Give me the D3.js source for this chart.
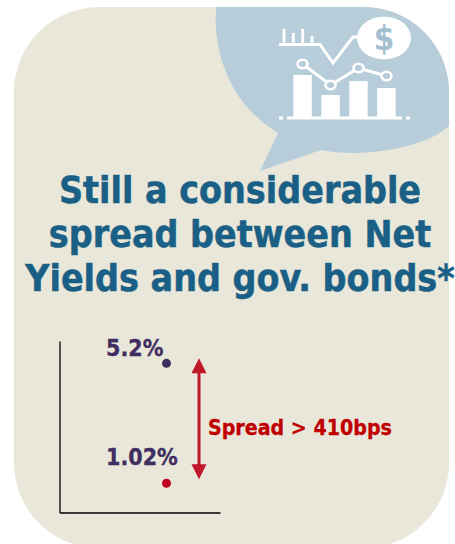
<!DOCTYPE html>
<html>
<head>
<meta charset="utf-8">
<script src="https://cdn.jsdelivr.net/npm/d3@7"></script>
<style>
html,body{margin:0;padding:0;background:#fff;overflow:hidden}
svg{display:block}
text{font-family:"DejaVu Sans",Verdana,sans-serif;font-weight:700;font-stretch:condensed}
</style>
</head>
<body>
<svg id="chart" width="455" height="544"></svg>
<script>
// Yield readings, in percent
const seriesValues = [5.2, 1.02];
const seriesLabels = ["5.2%", "1.02%"];
const seriesColors = ["#3f2e5f", "#c00020"];
const labelLift = [7.5, 18];
const spreadLabel = "Spread > 410bps";
const titleLines = ["Still a considerable", "spread between Net", "Yields and gov. bonds*"];

// Badge pictogram values
const badgeBars = [42, 22, 36, 29];
const badgeLine = [53, 32, 49, 41];
const badgeTicks = [15, 11, 15, 8];

const PANEL = "#e9e7d9", BUBBLE = "#b7cdd9", TITLE = "#1a5f85", ARROW = "#c0172a";

const svg = d3.select("#chart");
const defs = svg.append("defs");
defs.append("clipPath").attr("id", "panelClip").append("rect")
  .attr("x", 14).attr("y", 7).attr("width", 435).attr("height", 541).attr("rx", 85).attr("ry", 85);

// Rounded panel, running off the bottom edge
svg.append("rect").attr("x", 14).attr("y", 7).attr("width", 435).attr("height", 541)
  .attr("rx", 85).attr("ry", 85).attr("fill", PANEL);

// Speech bubble behind the pictogram
svg.append("path").attr("clip-path", "url(#panelClip)").attr("fill", BUBBLE)
  .attr("d", "M217,0 C213,30 218,58 232,85 C243,106 259,121 278,133 L260,171 L321,150 C345,155 385,154 417,143 C430,139 441,133 449,126 L460,120 L460,0 Z");

// Pictogram: columns with a line on top
const badge = svg.append("g").attr("class", "badge");
const bx = d3.scaleBand().domain(d3.range(badgeBars.length)).range([290, 399]).paddingInner(0.34).paddingOuter(0.12);
const by = d3.scaleLinear().domain([0, 42]).range([117, 75]);
badge.selectAll("rect.col").data(badgeBars).join("rect").attr("class", "col")
  .attr("x", (d, i) => bx(i)).attr("width", bx.bandwidth())
  .attr("y", d => by(d)).attr("height", d => by(0) - by(d)).attr("fill", "#fff");
badge.append("line").attr("x1", 287).attr("x2", 402).attr("y1", 118).attr("y2", 118)
  .attr("stroke", "#fff").attr("stroke-width", 3);
badge.selectAll("rect.end").data([281, 408]).join("rect").attr("class", "end")
  .attr("x", d => d - 2).attr("y", 116.5).attr("width", 4).attr("height", 3).attr("fill", "#fff");
const lx = i => bx(i) + bx.bandwidth() / 2;
badge.append("path").datum(badgeLine)
  .attr("d", d3.line().x((d, i) => lx(i)).y(d => by(d)))
  .attr("fill", "none").attr("stroke", "#fff").attr("stroke-width", 3);
badge.selectAll("ellipse.node").data(badgeLine).join("ellipse").attr("class", "node")
  .attr("cx", (d, i) => lx(i)).attr("cy", d => by(d)).attr("rx", 5).attr("ry", 4.2)
  .attr("fill", BUBBLE).attr("stroke", "#fff").attr("stroke-width", 2.6);

// Pictogram: small ticks, zigzag, and dollar coin
const tx = d3.scaleLinear().domain([0, 3]).range([284, 312]);
badge.selectAll("line.tick").data(badgeTicks).join("line").attr("class", "tick")
  .attr("x1", (d, i) => tx(i)).attr("x2", (d, i) => tx(i))
  .attr("y1", 44).attr("y2", d => 44 - d)
  .attr("stroke", "#fff").attr("stroke-width", 2.8);
badge.append("path").attr("d", "M279,44.5 L320,44.5 L333,63 L353,37 L362,37")
  .attr("fill", "none").attr("stroke", "#fff").attr("stroke-width", 3);
badge.append("ellipse").attr("cx", 384).attr("cy", 38).attr("rx", 27).attr("ry", 21.5).attr("fill", "#fff");
badge.append("text").attr("x", 384).attr("y", 49.5).attr("text-anchor", "middle")
  .attr("font-size", 33).attr("fill", "#a3c0d0").text("$");

// Heading
svg.selectAll("text.title").data(titleLines).join("text").attr("class", "title")
  .attr("x", 240).attr("y", (d, i) => 203 + i * 44)
  .attr("text-anchor", "middle").attr("font-size", 37.2).attr("fill", TITLE)
  .attr("stroke", TITLE).attr("stroke-width", 0.5).text(d => d);

// Plot scales: the baseline sits at 0%
const x = d3.scaleLinear().domain([0, 3]).range([59.5, 220]);
const y = d3.scaleLinear().domain([0, 5.98]).range([512.5, 341]);
const xPos = 2;

svg.append("g").attr("transform", "translate(59.5,0)")
  .call(d3.axisLeft(y).tickValues([]).tickSize(0))
  .select(".domain").attr("stroke", "#000").attr("stroke-width", 1.3);
svg.append("g").attr("transform", "translate(0,512.5)")
  .call(d3.axisBottom(x).tickValues([]).tickSize(0))
  .select(".domain").attr("stroke", "#000").attr("stroke-width", 1.3);

// Points and their value labels
svg.selectAll("circle.pt").data(seriesValues).join("circle").attr("class", "pt")
  .attr("cx", x(xPos)).attr("cy", d => y(d)).attr("r", 4.5)
  .attr("fill", (d, i) => seriesColors[i]);
svg.selectAll("text.val").data(seriesValues).join("text").attr("class", "val")
  .attr("x", 106).attr("y", (d, i) => y(d) - labelLift[i])
  .attr("font-size", 23).attr("fill", "#3f2e5f")
  .attr("stroke", "#3f2e5f").attr("stroke-width", 0.3).text((d, i) => seriesLabels[i]);

// Double-headed arrow spanning the gap between the two readings
const arrowTop = y(seriesValues[0]) - 5, arrowEnd = y(seriesValues[1]) - 4, ax = 199;
svg.append("line").attr("x1", ax).attr("x2", ax).attr("y1", arrowTop + 10).attr("y2", arrowEnd - 10)
  .attr("stroke", ARROW).attr("stroke-width", 3);
svg.append("path").attr("fill", ARROW)
  .attr("d", d3.line()([[ax, arrowTop], [ax + 7.5, arrowTop + 15], [ax - 7.5, arrowTop + 15]]) + "Z");
svg.append("path").attr("fill", ARROW)
  .attr("d", d3.line()([[ax, arrowEnd], [ax + 7.5, arrowEnd - 15], [ax - 7.5, arrowEnd - 15]]) + "Z");

svg.append("text").attr("x", 208).attr("y", 435).attr("font-size", 21.2)
  .attr("fill", "#c00000").attr("stroke", "#c00000").attr("stroke-width", 0.3).text(spreadLabel);
</script>
</body>
</html>
